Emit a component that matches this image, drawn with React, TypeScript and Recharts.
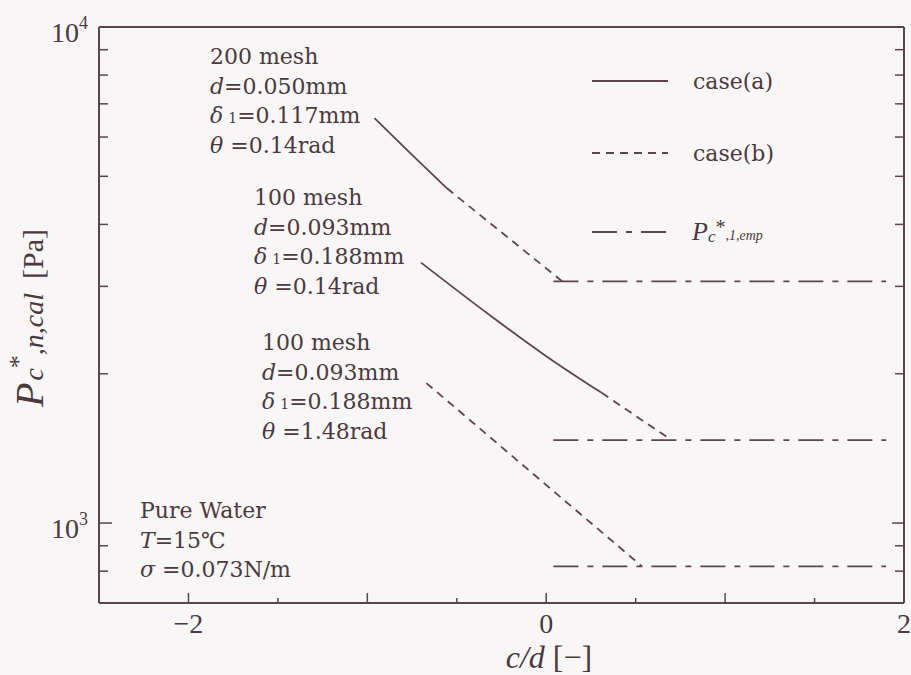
import React from "react";
import { LineChart, Line, XAxis, YAxis, Legend } from "recharts";

// c/d [-] vs P*c,n,cal [Pa]
const mesh200CaseA = [
  { cd: -0.96, p: 6550 },
  { cd: -0.76, p: 5570 },
  { cd: -0.555, p: 4730 },
];
const mesh200CaseB = [
  { cd: -0.555, p: 4730 },
  { cd: 0.09, p: 3070 },
];
const mesh200Emp = [
  { cd: 0.04, p: 3070 },
  { cd: 1.9, p: 3070 },
];
const mesh100CaseA = [
  { cd: -0.7, p: 3350 },
  { cd: -0.3, p: 2600 },
  { cd: 0.0, p: 2170 },
  { cd: 0.31, p: 1830 },
];
const mesh100CaseB = [
  { cd: 0.31, p: 1830 },
  { cd: 0.7, p: 1470 },
];
const mesh100Emp = [
  { cd: 0.04, p: 1470 },
  { cd: 1.9, p: 1470 },
];
const mesh100WetCaseB = [
  { cd: -0.67, p: 1915 },
  { cd: 0.535, p: 818 },
];
const mesh100WetEmp = [
  { cd: 0.04, p: 818 },
  { cd: 1.9, p: 818 },
];

const X_TICKS = [-2, -1.5, -1, -0.5, 0, 0.5, 1, 1.5, 2];
const X_LABELS = [-2, 0, 2];
const Y_TICKS = [800, 900, 1000, 2000, 3000, 4000, 5000, 6000, 7000, 8000, 9000, 10000];
const Y_LABELS: Record<number, string> = { 1000: "3", 10000: "4" };

const INK = "#4b3a40";
const AXIS = "#5a454b";
const LINE = "#5e464d";
const BG = "#f9f6f7";
const TEXT_FONT = "'DejaVu Serif', serif";
const NUM_FONT = "'Liberation Serif', serif";

const DASH_B = "8 6";
const DASH_EMP = "25 9 6 9";

const fmtX = (v: number) => (v < 0 ? `\u2212${Math.abs(v)}` : `${v}`);

function BottomTick(props: any) {
  const { x, y, payload } = props;
  const v = payload.value;
  const len = Number.isInteger(v) ? 10 : 5;
  return (
    <g>
      <line x1={x} y1={y} x2={x} y2={y - len} stroke={AXIS} strokeWidth={1.5} />
      {X_LABELS.includes(v) && (
        <text x={x} y={y + 30} textAnchor="middle" fontFamily={NUM_FONT} fontSize={28} fill={INK}>
          {fmtX(v)}
        </text>
      )}
    </g>
  );
}

function TopTick(props: any) {
  const { x, y, payload } = props;
  const len = Number.isInteger(payload.value) ? 8 : 4;
  return <line x1={x} y1={y} x2={x} y2={y + len} stroke={AXIS} strokeWidth={1.5} />;
}

function LeftTick(props: any) {
  const { x, y, payload } = props;
  const v = payload.value;
  const exp = Y_LABELS[v];
  const len = exp ? 13 : 9;
  return (
    <g>
      <line x1={x} y1={y} x2={x + len} y2={y} stroke={AXIS} strokeWidth={1.5} />
      {exp && (
        <text x={x - 11} y={y + 15} textAnchor="end" fontFamily={NUM_FONT} fontSize={28} fill={INK}>
          10
          <tspan dy={-13} fontSize={18}>
            {exp}
          </tspan>
        </text>
      )}
    </g>
  );
}

function RightTick(props: any) {
  const { x, y, payload } = props;
  const len = Y_LABELS[payload.value] ? 12 : 9;
  return <line x1={x} y1={y} x2={x - len} y2={y} stroke={AXIS} strokeWidth={1.5} />;
}

function LegendBox() {
  const rows = [
    { y: 21, dash: undefined as string | undefined },
    { y: 93, dash: DASH_B },
    { y: 172, dash: DASH_EMP },
  ];
  return (
    <svg width={320} height={200}>
      {rows.map((r) => (
        <line key={r.y} x1={7} x2={83} y1={r.y} y2={r.y} stroke={LINE} strokeWidth={1.8} strokeDasharray={r.dash} />
      ))}
      <text x={108} y={29} fontFamily={TEXT_FONT} fontSize={22} fill={INK}>case(a)</text>
      <text x={108} y={101} fontFamily={TEXT_FONT} fontSize={22} fill={INK}>case(b)</text>
      <text x={107} y={180} fontFamily={NUM_FONT} fill={INK}>
        <tspan fontStyle="italic" fontSize={26}>P</tspan>
        <tspan fontStyle="italic" fontSize={17} dy={2}>c</tspan>
        <tspan fontSize={20} dy={-8}>*</tspan>
        <tspan fontStyle="italic" fontSize={14} dy={6}>,1,emp</tspan>
      </text>
    </svg>
  );
}

function Note({ x, y, lines }: { x: number; y: number; lines: React.ReactNode[] }) {
  return (
    <text x={x} y={y} fontFamily={TEXT_FONT} fontSize={22} fill={INK}>
      {lines.map((l, i) => (
        <tspan key={i} x={x} dy={i === 0 ? 0 : 29.5}>
          {l}
        </tspan>
      ))}
    </text>
  );
}

function meshNote(mesh: string, d: string, delta: string, theta: string) {
  return [
    `${mesh} mesh`,
    <>
      <tspan fontStyle="italic">d</tspan>={d}mm
    </>,
    <>
      <tspan fontStyle="italic">δ</tspan>
      <tspan fontSize={14} dx={5}>1</tspan>={delta}mm
    </>,
    <>
      <tspan fontStyle="italic">θ</tspan> ={theta}rad
    </>,
  ];
}

export default function App() {
  const lineProps = {
    xAxisId: "b",
    yAxisId: "l",
    dataKey: "p",
    stroke: LINE,
    strokeWidth: 1.8,
    dot: false,
    activeDot: false,
    isAnimationActive: false,
    type: "linear" as const,
  };
  const frame = { stroke: AXIS, strokeWidth: 2 };
  return (
    <div style={{ position: "absolute", left: 0, top: 0, width: 911, height: 675, background: BG }}>
      <LineChart width={911} height={675} margin={{ top: 26, right: 6, bottom: 71, left: 0 }}>
        <XAxis
          xAxisId="b"
          type="number"
          dataKey="cd"
          domain={[-2.5, 2]}
          ticks={X_TICKS}
          allowDataOverflow
          height={1}
          tickSize={0}
          tickMargin={0}
          tickLine={false}
          axisLine={frame}
          tick={BottomTick}
          interval={0}
        />
        <XAxis
          xAxisId="t"
          orientation="top"
          type="number"
          domain={[-2.5, 2]}
          ticks={X_TICKS}
          allowDataOverflow
          height={1}
          tickSize={0}
          tickMargin={0}
          tickLine={false}
          axisLine={frame}
          tick={TopTick}
          interval={0}
        />
        <YAxis
          yAxisId="l"
          scale="log"
          type="number"
          domain={[690, 10000]}
          ticks={Y_TICKS}
          allowDataOverflow
          width={99}
          tickSize={0}
          tickMargin={0}
          tickLine={false}
          axisLine={frame}
          tick={LeftTick}
          interval={0}
        />
        <YAxis
          yAxisId="r"
          orientation="right"
          scale="log"
          type="number"
          domain={[690, 10000]}
          ticks={Y_TICKS}
          allowDataOverflow
          width={1}
          tickSize={0}
          tickMargin={0}
          tickLine={false}
          axisLine={frame}
          tick={RightTick}
          interval={0}
        />

        <Line {...lineProps} data={mesh200CaseA} name="case(a)" />
        <Line {...lineProps} data={mesh200CaseB} strokeDasharray={DASH_B} name="case(b)" />
        <Line {...lineProps} data={mesh200Emp} strokeDasharray={DASH_EMP} name="emp" />
        <Line {...lineProps} data={mesh100CaseA} type="monotone" name="case(a) 100" />
        <Line {...lineProps} data={mesh100CaseB} strokeDasharray={DASH_B} name="case(b) 100" />
        <Line {...lineProps} data={mesh100Emp} strokeDasharray={DASH_EMP} name="emp 100" />
        <Line {...lineProps} data={mesh100WetCaseB} strokeDasharray={DASH_B} name="case(b) 100 wet" />
        <Line {...lineProps} data={mesh100WetEmp} strokeDasharray={DASH_EMP} name="emp 100 wet" />

        <Legend
          layout="vertical"
          align="center"
          verticalAlign="middle"
          content={() => <LegendBox />}
          wrapperStyle={{ left: 585, top: 60, width: 320, height: 200 }}
        />

        <Note x={210} y={64} lines={meshNote("200", "0.050", "0.117", "0.14")} />
        <Note x={254} y={205} lines={meshNote("100", "0.093", "0.188", "0.14")} />
        <Note x={262} y={350} lines={meshNote("100", "0.093", "0.188", "1.48")} />
        <Note
          x={140}
          y={518}
          lines={[
            "Pure Water",
            <>
              <tspan fontStyle="italic">T</tspan>=15℃
            </>,
            <>
              <tspan fontStyle="italic">σ</tspan> =0.073N/m
            </>,
          ]}
        />

        <text transform="translate(43,407) rotate(-90)" fontFamily={NUM_FONT} fill={INK}>
          <tspan fontStyle="italic" fontSize={40}>P</tspan>
          <tspan fontStyle="italic" fontSize={28} dx={2}>c</tspan>
          <tspan fontSize={26} dy={-16}>*</tspan>
          <tspan fontStyle="italic" fontSize={28} dy={16}>,n,cal</tspan>
          <tspan fontSize={30} dx={14}>[Pa]</tspan>
        </text>
        <text x={549} y={668} textAnchor="middle" fontFamily={NUM_FONT} fontSize={32} fill={INK}>
          <tspan fontStyle="italic">c/d</tspan> [−]
        </text>
      </LineChart>
    </div>
  );
}
